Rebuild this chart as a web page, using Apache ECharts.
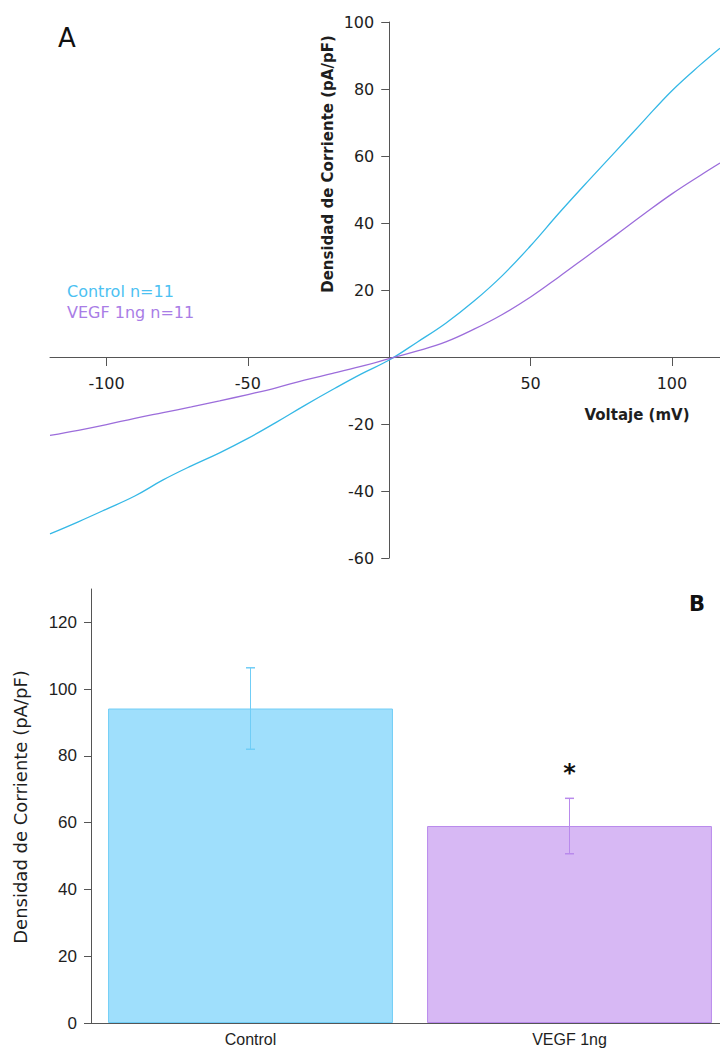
<!DOCTYPE html>
<html>
<head>
<meta charset="utf-8">
<title>Densidad de corriente</title>
<script src="https://cdn.jsdelivr.net/npm/echarts@6/dist/echarts.min.js"></script>
<style>
    html, body { margin: 0; padding: 0; background: #fff; overflow: hidden; }
    #chart { width: 730px; height: 1048px; }
</style>
</head>
<body>
<div id="chart"></div>
<script>
    // panel A: curva I-V (mV vs pA/pF)
    const voltage   = [-120, -110, -100, -90, -80, -70, -60, -50, -40, -30, -20, -10, 0, 10, 20, 30, 40, 50, 60, 70, 80, 90, 100, 110, 117];
    const controlIV = [-52.8, -49.2, -45.4, -41.5, -36.7, -32.5, -28.6, -24.3, -19.5, -14.5, -9.7, -5.1, -0.9, 4.5, 10.1, 16.7, 24.3, 33.2, 42.9, 52.2, 61.3, 70.5, 79.5, 87.2, 92.2];
    const vegfIV    = [-23.4, -21.9, -20.2, -18.3, -16.6, -14.9, -13.1, -11.2, -9.2, -6.9, -4.9, -2.8, -0.5, 1.8, 4.5, 8.3, 12.7, 17.9, 23.9, 30.1, 36.3, 42.6, 48.7, 54.2, 57.9];
    const ivXRange  = [-120, 117];
    const ivYRange  = [-60, 100];
    const ivXTicks  = [-100, -50, 50, 100];
    const ivYTicks  = [-60, -40, -20, 20, 40, 60, 80, 100];

    // panel B: barras media +/- error
    const groups      = ['Control', 'VEGF 1ng'];
    const meanDensity = [94.2, 59.0];
    const errDensity  = [12.2, 8.3];
    const barTicks    = [0, 20, 40, 60, 80, 100, 120];
    const starValue   = 74.8;

    const lineColors = ['#35b8e6', '#9c6ddb'];
    const barFill    = ['#9fdffc', '#d7b8f4'];
    const barEdge    = ['#70cdf6', '#b98aec'];
    const axisColor  = '#555';
    const textColor  = '#1e1e1e';

    // caja del panel A; los ejes se dibujan cruzando en (0, 0)
    const boxA = { left: 50, top: 22, width: 670, height: 536 };
    const zeroX = boxA.left + boxA.width * (0 - ivXRange[0]) / (ivXRange[1] - ivXRange[0]);
    const zeroY = boxA.top + boxA.height * (ivYRange[1] - 0) / (ivYRange[1] - ivYRange[0]);

    const chart = echarts.init(document.getElementById('chart'), null, { renderer: 'svg' });

    chart.setOption({
        animation: false,
        textStyle: { fontFamily: 'DejaVu Sans' },
        grid: [
            boxA,
            { left: 91, top: 589, width: 638, height: 434 },
            { left: zeroX, top: boxA.top, width: boxA.left + boxA.width - zeroX, height: boxA.height },
            { left: boxA.left, top: boxA.top, width: boxA.width, height: zeroY - boxA.top }
        ],
        legend: {
            orient: 'vertical',
            left: 57,
            top: 278,
            icon: 'none',
            itemWidth: 0,
            itemHeight: 16,
            itemGap: 5,
            selectedMode: false,
            textStyle: { fontSize: 16, fontFamily: 'DejaVu Sans' },
            data: [
                { name: 'Control n=11', textStyle: { color: '#4cc1f2' } },
                { name: 'VEGF 1ng n=11', textStyle: { color: '#a97de6' } }
            ]
        },
        xAxis: [
            { gridIndex: 0, type: 'value', min: ivXRange[0], max: ivXRange[1], show: false },
            {
                gridIndex: 1,
                type: 'category',
                data: groups,
                axisLine: { lineStyle: { color: axisColor, width: 1 } },
                axisTick: { length: 10, lineStyle: { color: axisColor } },
                axisLabel: { fontFamily: 'Liberation Sans', fontSize: 16, color: textColor, margin: 8 }
            },
            { gridIndex: 2, type: 'value', min: 0, max: 1, show: false },
            {
                gridIndex: 3,
                type: 'value',
                position: 'bottom',
                min: ivXRange[0],
                max: ivXRange[1],
                axisLine: { onZero: false, lineStyle: { color: axisColor, width: 1 } },
                axisTick: { show: true, customValues: ivXTicks, length: 9, lineStyle: { color: axisColor } },
                axisLabel: { customValues: ivXTicks, color: textColor, fontSize: 16, margin: 18 },
                splitLine: { show: false }
            }
        ],
        yAxis: [
            { gridIndex: 0, type: 'value', min: ivYRange[0], max: ivYRange[1], show: false },
            {
                gridIndex: 1,
                type: 'value',
                min: 0,
                max: 130,
                axisLine: { show: true, lineStyle: { color: axisColor, width: 1 } },
                axisTick: { show: true, customValues: barTicks, length: 7, lineStyle: { color: axisColor } },
                axisLabel: { customValues: barTicks, fontFamily: 'Liberation Sans', color: textColor, fontSize: 17, margin: 14 },
                splitLine: { show: false }
            },
            {
                gridIndex: 2,
                type: 'value',
                position: 'left',
                min: ivYRange[0],
                max: ivYRange[1],
                axisLine: { show: true, onZero: false, lineStyle: { color: axisColor, width: 1 } },
                axisTick: { show: true, customValues: ivYTicks, length: 8, lineStyle: { color: axisColor } },
                axisLabel: { customValues: ivYTicks, color: textColor, fontSize: 16, margin: 15 },
                splitLine: { show: false }
            },
            { gridIndex: 3, type: 'value', min: 0, max: 1, show: false }
        ],
        graphic: [
            { type: 'text', x: 67, y: 38, style: { text: 'A', fontSize: 26, fontFamily: 'DejaVu Sans', fill: '#111', textAlign: 'center', textVerticalAlign: 'middle' } },
            { type: 'text', x: 697, y: 604, style: { text: 'B', fontSize: 21, fontWeight: 'bold', fontFamily: 'DejaVu Sans', fill: '#111', textAlign: 'center', textVerticalAlign: 'middle' } },
            { type: 'text', x: 328, y: 164, rotation: Math.PI / 2, style: { text: 'Densidad de Corriente (pA/pF)', fontSize: 15, fontWeight: 'bold', fontFamily: 'DejaVu Sans', fill: textColor, textAlign: 'center', textVerticalAlign: 'middle' } },
            { type: 'text', x: 637, y: 415, style: { text: 'Voltaje (mV)', fontSize: 15, fontWeight: 'bold', fontFamily: 'DejaVu Sans', fill: textColor, textAlign: 'center', textVerticalAlign: 'middle' } },
            { type: 'text', x: 20, y: 807, rotation: Math.PI / 2, style: { text: 'Densidad de Corriente (pA/pF)', fontSize: 18, fontFamily: 'DejaVu Sans', fill: textColor, textAlign: 'center', textVerticalAlign: 'middle' } }
        ],
        series: [
            {
                name: 'Control n=11',
                type: 'line',
                xAxisIndex: 0,
                yAxisIndex: 0,
                data: voltage.map((v, i) => [v, controlIV[i]]),
                showSymbol: false,
                smooth: 0.4,
                color: lineColors[0],
                lineStyle: { width: 1.3, color: lineColors[0] }
            },
            {
                name: 'VEGF 1ng n=11',
                type: 'line',
                xAxisIndex: 0,
                yAxisIndex: 0,
                data: voltage.map((v, i) => [v, vegfIV[i]]),
                showSymbol: false,
                smooth: 0.4,
                color: lineColors[1],
                lineStyle: { width: 1.3, color: lineColors[1] }
            },
            {
                name: 'media',
                type: 'bar',
                xAxisIndex: 1,
                yAxisIndex: 1,
                barWidth: '89.3%',
                data: meanDensity.map((v, i) => ({
                    value: v,
                    itemStyle: { color: barFill[i], borderColor: barEdge[i], borderWidth: 1 }
                })),
                markPoint: {
                    symbol: 'circle',
                    symbolSize: 0,
                    data: [{
                        coord: [1, starValue],
                        label: { show: true, formatter: '*', fontSize: 24, fontWeight: 'bold', color: '#111', fontFamily: 'DejaVu Sans' }
                    }]
                }
            },
            {
                name: 'error',
                type: 'custom',
                xAxisIndex: 1,
                yAxisIndex: 1,
                z: 5,
                data: meanDensity.map((v, i) => [i, v + errDensity[i], v - errDensity[i]]),
                renderItem: function (params, api) {
                    const idx = api.value(0);
                    const top = api.coord([idx, api.value(1)]);
                    const bot = api.coord([idx, api.value(2)]);
                    const hw = 4.5;
                    const stroke = barEdge[params.dataIndex];
                    return {
                        type: 'group',
                        children: [
                            { type: 'line', shape: { x1: top[0], y1: top[1], x2: bot[0], y2: bot[1] }, style: { stroke: stroke, lineWidth: 1 } },
                            { type: 'line', shape: { x1: top[0] - hw, y1: top[1], x2: top[0] + hw, y2: top[1] }, style: { stroke: stroke, lineWidth: 1.5 } },
                            { type: 'line', shape: { x1: bot[0] - hw, y1: bot[1], x2: bot[0] + hw, y2: bot[1] }, style: { stroke: stroke, lineWidth: 1.5 } }
                        ]
                    };
                }
            }
        ]
    });
</script>
</body>
</html>
